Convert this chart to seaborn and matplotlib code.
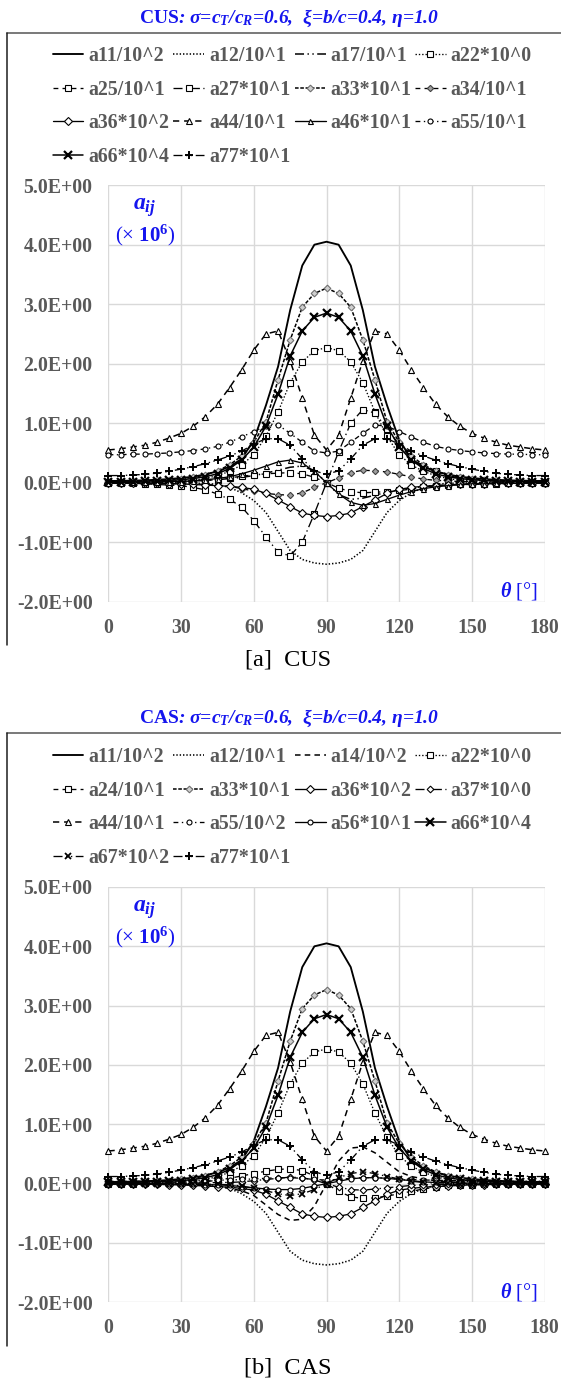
import matplotlib
matplotlib.use("Agg")
import matplotlib.pyplot as plt
import seaborn as sns
from matplotlib.lines import Line2D
from matplotlib.ticker import FuncFormatter
from matplotlib.font_manager import FontProperties

# ---------------- data ----------------
theta = [0, 5, 10, 15, 20, 25, 30, 35, 40, 45, 50, 55, 60, 65, 70, 75, 80, 85, 90,
         95, 100, 105, 110, 115, 120, 125, 130, 135, 140, 145, 150, 155, 160, 165, 170, 175, 180]

a11 = [0.03, 0.03, 0.035, 0.04, 0.05, 0.06, 0.08, 0.10, 0.14, 0.19, 0.27, 0.40, 0.72, 1.30, 1.95, 2.90, 3.65, 4.00, 4.05,
       4.00, 3.65, 2.90, 1.95, 1.30, 0.72, 0.40, 0.27, 0.19, 0.14, 0.10, 0.08, 0.06, 0.05, 0.04, 0.035, 0.03, 0.03]
a12 = [0.01, 0.01, 0.01, 0.01, 0.0, 0.0, 0.0, -0.01, -0.01, -0.03, -0.08, -0.17, -0.30, -0.50, -0.82, -1.14, -1.29, -1.35, -1.37,
       -1.35, -1.29, -1.14, -0.82, -0.50, -0.30, -0.17, -0.08, -0.03, -0.01, -0.01, 0.0, 0.0, 0.0, 0.01, 0.01, 0.01, 0.01]
a22 = [0.01, 0.01, 0.01, 0.02, 0.02, 0.03, 0.03, 0.04, 0.07, 0.12, 0.19, 0.30, 0.47, 0.78, 1.19, 1.68, 2.03, 2.22, 2.27,
       2.22, 2.03, 1.68, 1.19, 0.78, 0.47, 0.30, 0.19, 0.12, 0.07, 0.04, 0.03, 0.03, 0.02, 0.02, 0.01, 0.01, 0.01]
a33 = [0.02, 0.02, 0.03, 0.03, 0.04, 0.05, 0.07, 0.09, 0.13, 0.20, 0.30, 0.45, 0.68, 1.02, 1.73, 2.40, 2.95, 3.18, 3.27,
       3.18, 2.95, 2.40, 1.73, 1.02, 0.68, 0.45, 0.30, 0.20, 0.13, 0.09, 0.07, 0.05, 0.04, 0.03, 0.03, 0.02, 0.02]
a36 = [-0.01, -0.01, -0.01, -0.01, -0.01, -0.02, -0.02, -0.03, -0.04, -0.05, -0.06, -0.08, -0.11, -0.18, -0.29, -0.40, -0.51, -0.55, -0.57,
       -0.55, -0.51, -0.40, -0.29, -0.18, -0.11, -0.08, -0.06, -0.05, -0.04, -0.03, -0.02, -0.02, -0.01, -0.01, -0.01, -0.01, -0.01]
a44 = [0.55, 0.57, 0.60, 0.63, 0.68, 0.75, 0.83, 0.95, 1.11, 1.32, 1.60, 1.90, 2.23, 2.50, 2.55, 2.05, 1.42, 0.80, 0.55,
       0.80, 1.42, 2.05, 2.55, 2.50, 2.23, 1.90, 1.60, 1.32, 1.11, 0.95, 0.83, 0.75, 0.68, 0.63, 0.60, 0.57, 0.55]
a66 = [0.02, 0.02, 0.02, 0.03, 0.03, 0.04, 0.05, 0.07, 0.10, 0.15, 0.24, 0.38, 0.60, 0.95, 1.49, 2.13, 2.55, 2.78, 2.85,
       2.78, 2.55, 2.13, 1.49, 0.95, 0.60, 0.38, 0.24, 0.15, 0.10, 0.07, 0.05, 0.04, 0.03, 0.03, 0.02, 0.02, 0.02]
a77 = [0.12, 0.12, 0.13, 0.14, 0.16, 0.19, 0.23, 0.27, 0.32, 0.38, 0.45, 0.53, 0.65, 0.74, 0.74, 0.63, 0.40, 0.20, 0.14,
       0.20, 0.40, 0.63, 0.74, 0.74, 0.65, 0.53, 0.45, 0.38, 0.32, 0.27, 0.23, 0.19, 0.16, 0.14, 0.13, 0.12, 0.12]

# CUS-only series
cus_a17 = [0.0, 0.0, 0.0, 0.01, 0.01, 0.01, 0.02, 0.03, 0.04, 0.05, 0.07, 0.09, 0.12, 0.16, 0.21, 0.26, 0.28, 0.20, 0.0,
           -0.20, -0.28, -0.26, -0.21, -0.16, -0.12, -0.09, -0.07, -0.05, -0.04, -0.03, -0.02, -0.01, -0.01, -0.01, 0.0, 0.0, 0.0]
cus_a25 = [0.01, 0.01, 0.01, 0.01, 0.02, 0.02, 0.03, 0.03, 0.04, 0.05, 0.08, 0.11, 0.13, 0.15, 0.16, 0.17, 0.15, 0.09, 0.0,
           -0.09, -0.15, -0.17, -0.16, -0.15, -0.13, -0.11, -0.08, -0.05, -0.04, -0.03, -0.03, -0.02, -0.02, -0.01, -0.01, -0.01, -0.01]
cus_a27 = [0.0, -0.01, -0.01, -0.02, -0.03, -0.04, -0.05, -0.08, -0.12, -0.19, -0.28, -0.41, -0.64, -0.91, -1.17, -1.23, -1.00, -0.52, 0.0,
           0.52, 1.00, 1.23, 1.17, 0.91, 0.64, 0.41, 0.28, 0.19, 0.12, 0.08, 0.05, 0.04, 0.03, 0.02, 0.01, 0.01, 0.0]
cus_a34 = [0.0, 0.0, 0.0, -0.01, -0.01, -0.01, -0.02, -0.02, -0.03, -0.04, -0.06, -0.10, -0.14, -0.18, -0.20, -0.21, -0.17, -0.08, 0.0,
           0.08, 0.17, 0.21, 0.20, 0.18, 0.14, 0.10, 0.06, 0.04, 0.03, 0.02, 0.02, 0.01, 0.01, 0.01, 0.0, 0.0, 0.0]
cus_a46 = [0.0, 0.0, 0.01, 0.01, 0.01, 0.02, 0.02, 0.03, 0.05, 0.07, 0.10, 0.15, 0.21, 0.28, 0.35, 0.38, 0.33, 0.19, 0.0,
           -0.19, -0.33, -0.38, -0.35, -0.28, -0.21, -0.15, -0.10, -0.07, -0.05, -0.03, -0.02, -0.02, -0.01, -0.01, -0.01, 0.0, 0.0]
cus_a55 = [0.47, 0.47, 0.48, 0.48, 0.49, 0.50, 0.52, 0.54, 0.57, 0.61, 0.68, 0.77, 0.86, 0.95, 0.97, 0.83, 0.68, 0.53, 0.50,
           0.53, 0.68, 0.83, 0.97, 0.95, 0.86, 0.77, 0.68, 0.61, 0.57, 0.54, 0.52, 0.50, 0.49, 0.48, 0.48, 0.47, 0.47]

# CAS-only series
cas_a14 = [0.0, 0.0, 0.0, 0.0, -0.01, -0.01, -0.02, -0.02, -0.03, -0.05, -0.08, -0.12, -0.20, -0.36, -0.52, -0.62, -0.60, -0.38, 0.0,
           0.38, 0.60, 0.62, 0.52, 0.36, 0.20, 0.12, 0.08, 0.05, 0.03, 0.02, 0.02, 0.01, 0.01, 0.0, 0.0, 0.0, 0.0]
cas_a24 = [0.0, 0.0, 0.0, 0.01, 0.01, 0.01, 0.02, 0.02, 0.03, 0.06, 0.09, 0.13, 0.17, 0.21, 0.24, 0.25, 0.22, 0.13, 0.0,
           -0.13, -0.22, -0.25, -0.24, -0.21, -0.17, -0.13, -0.09, -0.06, -0.03, -0.02, -0.02, -0.01, -0.01, -0.01, 0.0, 0.0, 0.0]
cas_a37 = [0.0, 0.0, 0.0, 0.0, 0.0, 0.01, 0.01, 0.01, 0.01, 0.02, 0.02, 0.03, 0.05, 0.07, 0.09, 0.11, 0.10, 0.06, 0.0,
           -0.06, -0.10, -0.11, -0.09, -0.07, -0.05, -0.03, -0.02, -0.02, -0.01, -0.01, -0.01, -0.01, 0.0, 0.0, 0.0, 0.0, 0.0]
cas_a55 = [0.04, 0.04, 0.04, 0.04, 0.04, 0.04, 0.05, 0.05, 0.05, 0.06, 0.06, 0.07, 0.08, 0.09, 0.10, 0.10, 0.09, 0.07, 0.06,
           0.07, 0.09, 0.10, 0.10, 0.09, 0.08, 0.07, 0.06, 0.06, 0.05, 0.05, 0.05, 0.04, 0.04, 0.04, 0.04, 0.04, 0.04]
cas_a56 = [0.0, 0.0, 0.0, 0.0, 0.0, -0.01, -0.01, -0.01, -0.02, -0.02, -0.03, -0.05, -0.07, -0.09, -0.10, -0.10, -0.08, -0.04, 0.0,
           0.04, 0.08, 0.10, 0.10, 0.09, 0.07, 0.05, 0.03, 0.02, 0.02, 0.01, 0.01, 0.01, 0.0, 0.0, 0.0, 0.0, 0.0]
cas_a67 = [0.0, 0.0, 0.0, 0.0, 0.0, 0.0, 0.0, 0.0, -0.01, -0.01, -0.02, -0.04, -0.08, -0.12, -0.17, -0.20, -0.17, -0.10, 0.0,
           0.10, 0.17, 0.20, 0.17, 0.12, 0.08, 0.04, 0.02, 0.01, 0.01, 0.0, 0.0, 0.0, 0.0, 0.0, 0.0, 0.0, 0.0]

cus_labels = ["a11/10^2", "a12/10^1", "a17/10^1", "a22*10^0", "a25/10^1", "a27*10^1", "a33*10^1",
              "a34/10^1", "a36*10^2", "a44/10^1", "a46*10^1", "a55/10^1", "a66*10^4", "a77*10^1"]
cus_values = [a11, a12, cus_a17, a22, cus_a25, cus_a27, a33, cus_a34, a36, a44, cus_a46, cus_a55, a66, a77]

cas_labels = ["a11/10^2", "a12/10^1", "a14/10^2", "a22*10^0", "a24/10^1", "a33*10^1", "a36*10^2",
              "a37*10^0", "a44/10^1", "a55/10^2", "a56*10^1", "a66*10^4", "a67*10^2", "a77*10^1"]
cas_values = [a11, a12, cas_a14, a22, cas_a24, a33, a36, cas_a37, a44, cas_a55, cas_a56, a66, cas_a67, a77]

y_ticks = [-2, -1, 0, 1, 2, 3, 4, 5]
x_ticks = [0, 30, 60, 90, 120, 150, 180]

# ---------------- styles ----------------
SOLID = "-"
SYSDOT = (0, (1.0, 1.4))
DASH = (0, (3.5, 3.0))
SYSDASH = (0, (2.6, 1.2))
LGDASH_DOT = (0, (6.5, 2.5, 1.0, 2.5))
LGDASH_DOT_DOT = (0, (6.5, 2.5, 1.0, 2.5, 1.0, 2.5))
DASH_DOT = (0, (3.5, 2.5, 1.0, 2.5))

def st(ls, marker=None, ms=3.6, mfc="white", mec="black", mew=0.8, lw=0.95):
    return dict(linestyle=ls, marker=marker, markersize=ms, markerfacecolor=mfc,
                markeredgecolor=mec, markeredgewidth=mew, linewidth=lw)

STY = {
    "a11": st(SOLID, lw=1.35),
    "a12": st(SYSDOT, lw=1.15),
    "a14": st((0, (4.0, 3.0)), lw=1.1),
    "a17": st(LGDASH_DOT_DOT, lw=1.1),
    "a22": st(SYSDOT, "s", ms=3.8),
    "a24": st(DASH, "s", ms=3.8),
    "a25": st(DASH, "s", ms=3.8),
    "a27": st(LGDASH_DOT, "s", ms=4.0),
    "a33": st(SYSDASH, "D", ms=3.4, mfc="#d0d0d0", mec="#707070", lw=1.1),
    "a34": st(DASH, "D", ms=3.2, mfc="#a0a0a0", mec="#404040"),
    "a36": st(SOLID, "D", ms=3.6),
    "a37": st(LGDASH_DOT, "D", ms=3.4),
    "a44": st((0, (4.5, 3.5)), "^", ms=3.8, lw=1.1),
    "a46": st(SOLID, "^", ms=3.6),
    "a55": st(DASH_DOT, "o", ms=3.6),
    "a56": st(SOLID, "o", ms=3.6),
    "a66": st(SOLID, "x", ms=5.2, mew=1.6, lw=1.1),
    "a67": st(LGDASH_DOT_DOT, "x", ms=4.6, mew=1.3),
    "a77": st(LGDASH_DOT_DOT, "+", ms=5.4, mew=1.4),
}

# ---------------- figure / layout ----------------
sns.set_theme(style="white")
plt.rcParams["font.family"] = ["Liberation Serif", "DejaVu Serif"]
plt.rcParams["mathtext.fontset"] = "custom"
plt.rcParams["mathtext.rm"] = "Liberation Serif:bold"
plt.rcParams["mathtext.it"] = "Liberation Serif:italic:bold"
plt.rcParams["mathtext.bf"] = "Liberation Serif:bold"
plt.rcParams["lines.scale_dashes"] = False

W, H, DPI = 561, 1383, 100
fig = plt.figure(figsize=(W / DPI, H / DPI), dpi=DPI)
fig.patch.set_facecolor("white")

def fx(x):
    return x / W

def fy(y):
    return 1 - y / H

GRAY_TXT = "#595959"
BLUE = "#1515ee"
AX_L, AX_R = 108.5, 544.5
LEG_X = [52.7, 173.3, 295.0, 415.0]

charts = [
    dict(name="CUS", labels=cus_labels, values=cus_values, top=185.2, bottom=601.7, title_y=18.5,
         frame_y=32.7, frame_bottom=645.0, leg_top=46.0, cap_y=660.0, cap="[a]  CUS"),
    dict(name="CAS", labels=cas_labels, values=cas_values, top=887.0, bottom=1302.3, title_y=718.5,
         frame_y=733.3, frame_bottom=1346.0, leg_top=747.0, cap_y=1368.0, cap="[b]  CAS"),
]

tick_fp = FontProperties(family="Liberation Serif", weight="bold", size=14.3)
leg_fp = FontProperties(family="Liberation Serif", weight="bold", size=14.3)

for ch in charts:
    ax = fig.add_axes([fx(AX_L), fy(ch["bottom"]), fx(AX_R - AX_L), (ch["bottom"] - ch["top"]) / H])
    ax.set_facecolor("white")
    handles = []
    for lab, vals in zip(ch["labels"], ch["values"]):
        key = lab[:3]
        sns.lineplot(x=theta, y=vals, ax=ax, color="black", legend=False, errorbar=None,
                     label=lab, clip_on=False, **STY[key])
        handles.append(ax.lines[-1])
    ax.set_xlim(0, 180)
    ax.set_ylim(-2, 5)
    ax.set_xticks(x_ticks)
    ax.set_yticks(y_ticks)
    ax.yaxis.set_major_formatter(FuncFormatter(lambda v, p: f"{v:.1E}"))
    ax.xaxis.set_major_formatter(FuncFormatter(lambda v, p: f"{int(round(v))}"))
    ax.grid(True, color="#d9d9d9", linewidth=1.0)
    ax.set_axisbelow(True)
    for s in ax.spines.values():
        s.set_visible(False)
    ax.tick_params(axis="both", length=0, labelcolor=GRAY_TXT)
    ax.tick_params(axis="y", pad=11.5)
    ax.tick_params(axis="x", pad=11.5)
    for t in ax.get_xticklabels() + ax.get_yticklabels():
        t.set_fontproperties(tick_fp)
    ax.set_xlabel("")
    ax.set_ylabel("")

    # annotations inside the plot
    fig.text(fx(145), fy(ch["top"] + 22.5), r"$a_{ij}$", color=BLUE, fontsize=17,
             ha="center", va="center")
    fig.text(fx(145), fy(ch["top"] + 50.5), r"(× $\mathbf{10^6}$)", color=BLUE, fontsize=15,
             fontweight="normal", ha="center", va="center")
    fig.text(fx(537), fy(ch["bottom"] - 10.3), r"$θ$ [°]", color=BLUE, fontsize=14.5,
             fontweight="normal", ha="right", va="center")

    # title
    fig.text(fx(289), fy(ch["title_y"]),
             r"$\mathrm{%s}$: σ=c$_T$/c$_R$=0.6,  ξ=b/c=0.4, η=1.0" % ch["name"],
             color=BLUE, fontsize=14.0, fontweight="bold", fontstyle="italic",
             ha="center", va="center")

    # caption
    fig.text(fx(288), fy(ch["cap_y"]), ch["cap"], color="black", fontsize=17.5,
             fontweight="normal", ha="center", va="center")

    # outer frame (top and left edges visible)
    fig.add_artist(Line2D([fx(7.3), fx(W + 5)], [fy(ch["frame_y"]), fy(ch["frame_y"])],
                          color="#6e6e6e", linewidth=1.3, transform=fig.transFigure))
    fig.add_artist(Line2D([fx(7.3), fx(7.3)], [fy(ch["frame_y"]), fy(ch["frame_bottom"])],
                          color="#1e1e1e", linewidth=1.1, transform=fig.transFigure))

    # legend: 4 columns filled row-wise
    for c in range(4):
        idx = list(range(c, len(handles), 4))
        fig.legend([handles[i] for i in idx], [ch["labels"][i] for i in idx],
                   loc="upper left", bbox_to_anchor=(fx(LEG_X[c]), fy(ch["leg_top"])),
                   frameon=False, borderpad=0.0, borderaxespad=0.0,
                   handlelength=1.55, handletextpad=0.25, labelspacing=0.68,
                   prop=leg_fp, labelcolor=GRAY_TXT)

fig.savefig("out.png", dpi=DPI, facecolor="white")
